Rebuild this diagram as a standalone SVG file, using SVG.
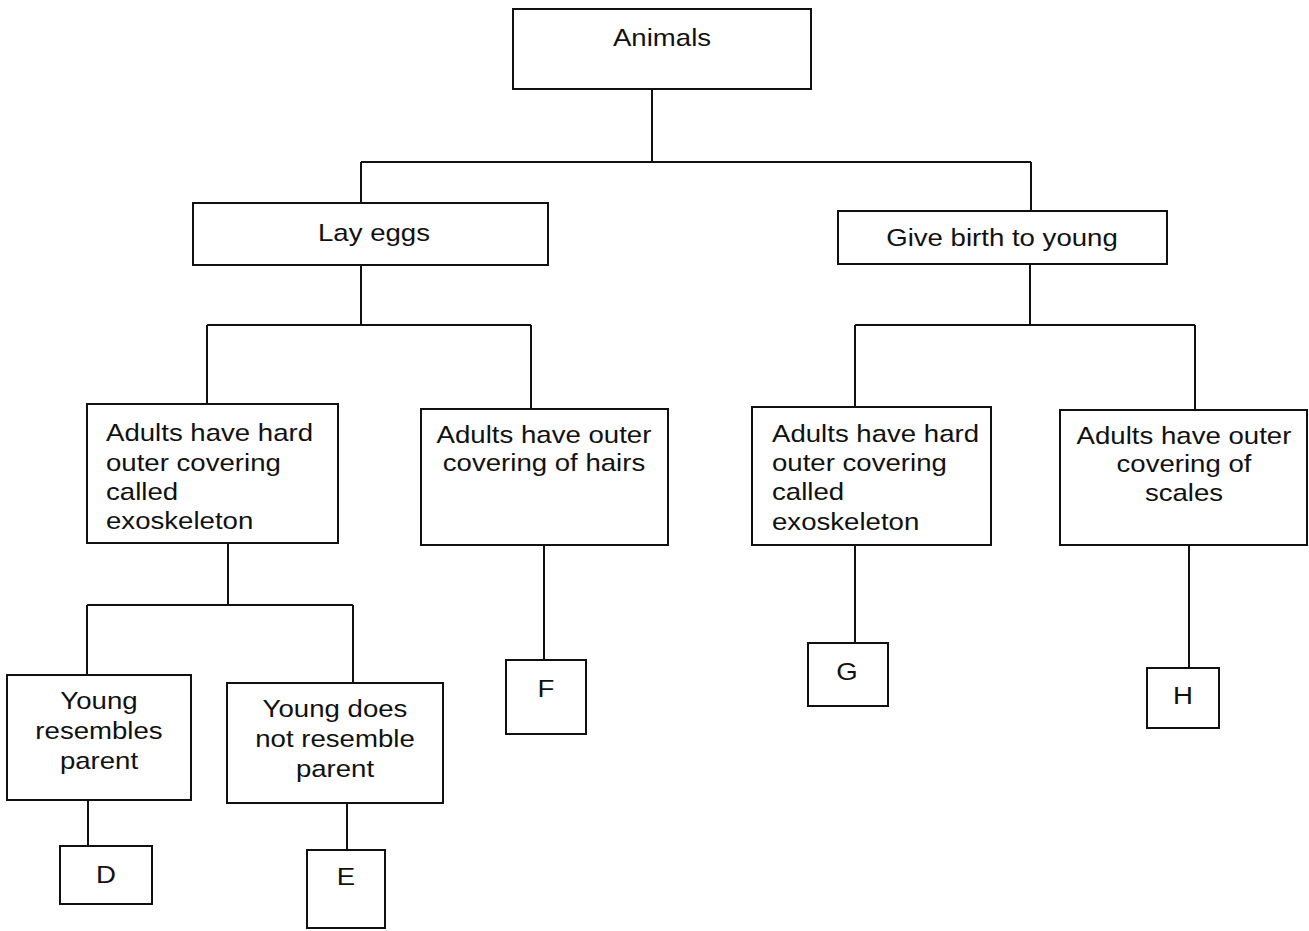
<svg xmlns="http://www.w3.org/2000/svg" width="1309" height="931" viewBox="0 0 1309 931">
<style>
.box{fill:#fff;stroke:#111;stroke-width:2}
.conn path{stroke:#111;stroke-width:2;fill:none}
text{font-family:"Liberation Sans",Arial,Helvetica,sans-serif;font-size:24px;fill:#111}
.c{text-anchor:middle}
</style>
<rect width="1309" height="931" fill="#fff"/>
<g class="conn" id="connectors">
<path d="M652 89V162M361 162H1031M361 162V203M1031 162V211"/>
<path d="M361 265V325M207 325H531M207 325V404M531 325V409"/>
<path d="M1030 264V325M855 325H1195M855 325V407M1195 325V410"/>
<path d="M228 543V605M87 605H353M87 605V675M353 605V683"/>
<path d="M88 800V846M347 803V850"/>
<path d="M544 545V660M855 545V643M1189 545V668"/>
</g>
<g id="animals"><rect class="box" x="513" y="9" width="298" height="80"/><text class="c" transform="matrix(1.15 0 0 1 662 46)">Animals</text></g>
<g id="lay-eggs"><rect class="box" x="193" y="203" width="355" height="62"/><text class="c" transform="matrix(1.15 0 0 1 374 241)">Lay eggs</text></g>
<g id="give-birth"><rect class="box" x="838" y="211" width="329" height="53"/><text class="c" transform="matrix(1.15 0 0 1 1002 246)">Give birth to young</text></g>
<g id="hard-left"><rect class="box" x="87" y="404" width="251" height="139"/><text transform="matrix(1.15 0 0 1 106 0)"><tspan x="0" y="441">Adults have hard</tspan><tspan x="0" y="471">outer covering</tspan><tspan x="0" y="500">called</tspan><tspan x="0" y="529">exoskeleton</tspan></text></g>
<g id="hairs"><rect class="box" x="421" y="409" width="247" height="136"/><text class="c" transform="matrix(1.15 0 0 1 544 0)"><tspan x="0" y="443">Adults have outer</tspan><tspan x="0" y="471">covering of hairs</tspan></text></g>
<g id="hard-right"><rect class="box" x="752" y="407" width="239" height="138"/><text transform="matrix(1.15 0 0 1 772 0)"><tspan x="0" y="442">Adults have hard</tspan><tspan x="0" y="471">outer covering</tspan><tspan x="0" y="500">called</tspan><tspan x="0" y="530">exoskeleton</tspan></text></g>
<g id="scales"><rect class="box" x="1060" y="410" width="247" height="135"/><text class="c" transform="matrix(1.15 0 0 1 1184 0)"><tspan x="0" y="444">Adults have outer</tspan><tspan x="0" y="472">covering of</tspan><tspan x="0" y="501">scales</tspan></text></g>
<g id="young-resembles"><rect class="box" x="7" y="675" width="184" height="125"/><text class="c" transform="matrix(1.15 0 0 1 99 0)"><tspan x="0" y="709">Young</tspan><tspan x="0" y="739">resembles</tspan><tspan x="0" y="769">parent</tspan></text></g>
<g id="young-not"><rect class="box" x="227" y="683" width="216" height="120"/><text class="c" transform="matrix(1.15 0 0 1 335 0)"><tspan x="0" y="717">Young does</tspan><tspan x="0" y="747">not resemble</tspan><tspan x="0" y="777">parent</tspan></text></g>
<g id="D"><rect class="box" x="60" y="846" width="92" height="58"/><text class="c" transform="matrix(1.15 0 0 1 106 883)">D</text></g>
<g id="E"><rect class="box" x="307" y="850" width="78" height="78"/><text class="c" transform="matrix(1.15 0 0 1 346 885)">E</text></g>
<g id="F"><rect class="box" x="506" y="660" width="80" height="74"/><text class="c" transform="matrix(1.15 0 0 1 546 697)">F</text></g>
<g id="G"><rect class="box" x="808" y="643" width="80" height="63"/><text class="c" transform="matrix(1.15 0 0 1 847 680)">G</text></g>
<g id="H"><rect class="box" x="1147" y="668" width="72" height="60"/><text class="c" transform="matrix(1.15 0 0 1 1183 704)">H</text></g>
</svg>
